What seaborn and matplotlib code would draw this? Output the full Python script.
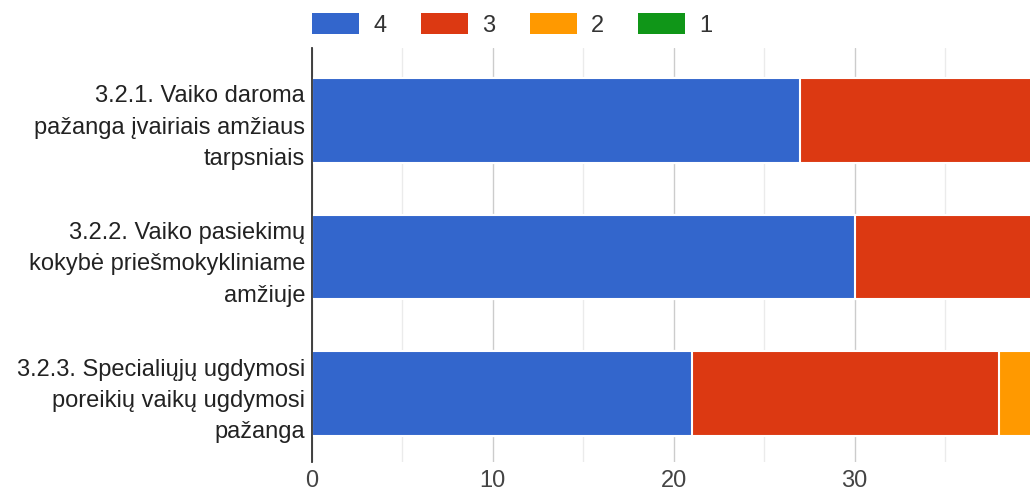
import matplotlib
matplotlib.use("Agg")
import matplotlib.pyplot as plt
from matplotlib.patches import Patch
from matplotlib.ticker import MultipleLocator
import seaborn as sns
import pandas as pd
import numpy as np

categories = [
    "3.2.1. Vaiko daroma\npažanga įvairiais amžiaus\ntarpsniais",
    "3.2.2. Vaiko pasiekimų\nkokybė priešmokykliniame\namžiuje",
    "3.2.3. Specialiųjų ugdymosi\nporeikių vaikų ugdymosi\npažanga",
]
series_names = ["4", "3", "2", "1"]
vals_4 = [27, 30, 21]
vals_3 = [13, 10, 17]
vals_2 = [0, 0, 2]
vals_1 = [0, 0, 0]
colors = ["#3366CC", "#DC3912", "#FF9900", "#109618"]
x_ticks = [0, 10, 20, 30]

sns.set_theme(style="white")
plt.rcParams["font.family"] = ["Liberation Sans", "DejaVu Sans"]

FS = 17

fig = plt.figure(figsize=(10.3, 4.95), dpi=100)
ax = fig.add_axes([312 / 1030, 1 - 462 / 495, 1 - 312 / 1030, (462 - 48) / 495])

stack = np.array([vals_4, vals_3, vals_2, vals_1], dtype=float)
cum = np.cumsum(stack, axis=0)

# draw back to front so each layer shows its own segment
for i in range(len(series_names) - 1, -1, -1):
    df = pd.DataFrame({"cat": categories, "val": cum[i]})
    sns.barplot(data=df, y="cat", x="val", orient="h", color=colors[i],
                saturation=1, width=0.62, edgecolor="white", linewidth=1.5,
                ax=ax, zorder=3)

ax.set_xlim(0, 39.7)
ax.set_ylim(2.5, -0.53)
ax.set_xlabel("")
ax.set_ylabel("")
ax.xaxis.set_major_locator(MultipleLocator(10))
ax.xaxis.set_minor_locator(MultipleLocator(5))
ax.set_xticks(x_ticks)
ax.grid(axis="x", which="major", color="#cccccc", linewidth=1, zorder=0)
ax.grid(axis="x", which="minor", color="#ebebeb", linewidth=1, zorder=0)
ax.grid(axis="y", visible=False)
for s in ["top", "right", "bottom"]:
    ax.spines[s].set_visible(False)
ax.spines["left"].set_color("#333333")
ax.spines["left"].set_linewidth(1.3)
ax.spines["left"].set_zorder(5)
ax.tick_params(axis="both", length=0, labelsize=FS, colors="#444444")
ax.tick_params(axis="y", pad=5, colors="#222222")
ax.tick_params(axis="x", pad=6)
for t in ax.get_yticklabels():
    t.set_horizontalalignment("right")
    t.set_multialignment("right")
    t.set_linespacing(1.55)

handles = [Patch(facecolor=c, edgecolor="none") for c in colors]
fig.legend(handles, series_names, loc="upper left",
           bbox_to_anchor=(312 / 1030, 1 - 13 / 495), ncol=4, frameon=False,
           fontsize=FS, handlelength=2.0, handleheight=1.0,
           handletextpad=0.6, columnspacing=1.45, borderpad=0,
           borderaxespad=0, labelcolor="#333333")

fig.savefig("out.png", dpi=100, facecolor="white")
